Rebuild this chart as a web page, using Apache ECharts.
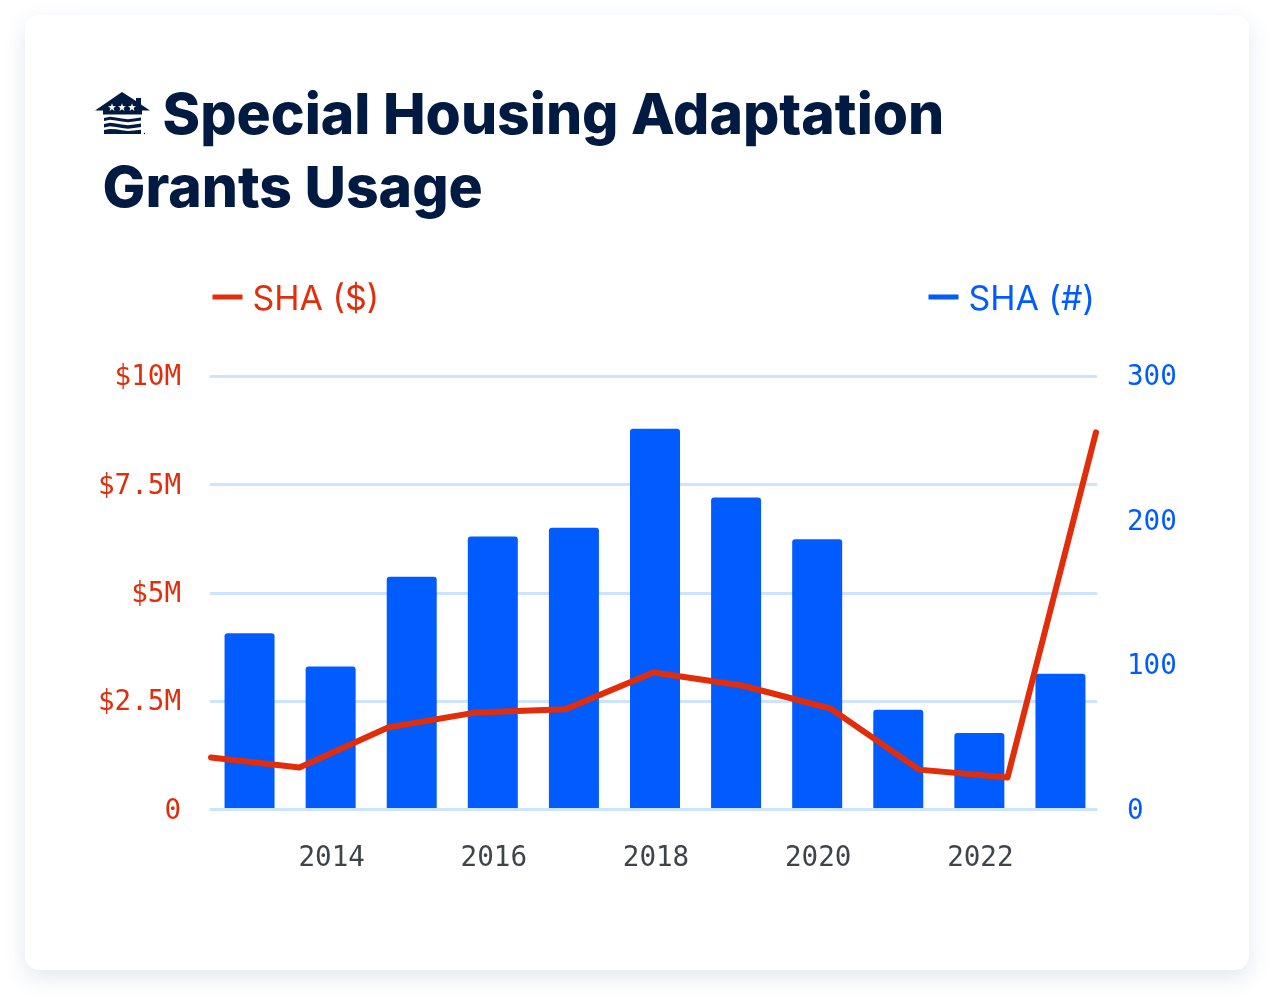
<!DOCTYPE html>
<html>

<head>
    <meta charset="utf-8">
    <script src="https://cdn.jsdelivr.net/npm/echarts@6/dist/echarts.min.js"></script>
    <style>
        html, body {
            margin: 0;
            padding: 0;
            background: #fff;
        }

        #card {
            position: absolute;
            left: 25px;
            top: 15px;
            width: 1224px;
            height: 955px;
            background: #fff;
            border-radius: 14px;
            box-shadow: 0 8px 22px rgba(40, 70, 130, 0.13);
        }

        #graph {
            position: absolute;
            left: 0;
            top: 0;
            width: 1276px;
            height: 1008px;
        }
    </style>
</head>

<body>
    <div id="card"></div>
    <div id="graph"></div>
    <script>
        const years = ['2013', '2014', '2015', '2016', '2017', '2018', '2019', '2020', '2021', '2022', '2023'];
        const shaCount = [122, 99, 161, 189, 195, 263.5, 216, 187, 69, 53, 94];
        const shaDollars = [1.2, 0.97, 1.89, 2.24, 2.31, 3.16, 2.86, 2.33, 0.92, 0.74, 8.7];
        const dollarTicks = { 0: '0', 2.5: '$2.5M', 5: '$5M', 7.5: '$7.5M', 10: '$10M' };

        const RED = '#e12d0a';
        const BLUE = '#005cff';
        const NAVY = '#001a41';
        const GRID = '#cde4ff';
        const MONO = '"DejaVu Sans Mono", monospace';
        const TITLE_FONT = { fontFamily: 'Inter', fontWeight: 800, fontSize: 57, color: NAVY };

        const myChart = echarts.init(document.getElementById('graph'));

        function star(cx, cy) {
            const pts = [];
            for (let i = 0; i < 10; i++) {
                const r = i % 2 ? 1.7 : 4.2;
                const a = -Math.PI / 2 + i * Math.PI / 5;
                pts.push([cx + r * Math.cos(a), cy + r * Math.sin(a)]);
            }
            return { type: 'polygon', shape: { points: pts }, style: { fill: '#fff' } };
        }

        // one band of the logo's water, wavy on top and bottom
        function wave(top, bottom) {
            const pts = [];
            const xs = [104, 110, 116, 122, 128, 134, 141];
            const dy = [0, -1.2, -0.6, 0.6, 1.2, 0.6, -0.6];
            xs.forEach((x, i) => pts.push([x, top + dy[i]]));
            xs.slice().reverse().forEach((x, i) => pts.push([x, bottom + dy[xs.length - 1 - i]]));
            return { type: 'polygon', shape: { points: pts }, style: { fill: NAVY } };
        }

        // legend text sits a bit lower than its swatch, so it goes through a rich style
        function legendText(color) {
            return {
                rich: {
                    t: { fontFamily: 'Inter', fontSize: 34, color: color, padding: [5, 0, 0, 5] }
                }
            };
        }

        // logo next to the title
        const logo = [
            { type: 'polygon', shape: { points: [[95, 110.5], [122, 92], [136, 101], [136, 98], [141, 98], [141, 104.5], [150, 110.5], [142, 110.5], [142, 114.5], [103, 114.5], [103, 110.5]] }, style: { fill: NAVY } },
            star(112, 107.5), star(122, 107.5), star(132, 107.5),
            wave(118, 121),
            wave(124, 127.5),
            { type: 'polygon', shape: { points: [[104, 130], [110, 129], [116, 129.3], [122, 130.3], [128, 131], [134, 130.5], [141, 129.7], [141, 134], [104, 134]] }, style: { fill: NAVY } },
            { type: 'circle', shape: { cx: 144.5, cy: 133.5, r: 0.7 }, style: { fill: NAVY } }
        ];

        const option = {
            animation: false,
            title: [
                { text: 'Special Housing Adaptation', left: 162.5, top: 88, padding: 0, textStyle: TITLE_FONT },
                { text: 'Grants Usage', left: 102.5, top: 161, padding: 0, textStyle: TITLE_FONT }
            ],
            legend: [
                {
                    data: ['SHA ($)'], left: 212.5, top: 282.5, padding: 0, icon: 'rect', itemWidth: 30, itemHeight: 5,
                    formatter: '{t|{name}}', textStyle: legendText(RED)
                },
                {
                    data: ['SHA (#)'], left: 928.5, top: 282.5, padding: 0, icon: 'rect', itemWidth: 30, itemHeight: 5,
                    formatter: '{t|{name}}', textStyle: legendText(BLUE)
                }
            ],
            grid: [
                { left: 209, right: 175, top: 376, bottom: 198.5 },
                { left: 211, right: 180, top: 376, bottom: 198.5 }
            ],
            xAxis: [
                {
                    type: 'category', gridIndex: 0, data: years,
                    axisLine: { show: false },
                    axisTick: { show: false },
                    axisLabel: {
                        interval: (i) => i % 2 === 1,
                        margin: 35,
                        padding: [0, 0, 0, 2],
                        fontFamily: MONO, fontSize: 27.6, color: '#3f434a'
                    }
                },
                {
                    type: 'category', gridIndex: 1, data: years, boundaryGap: false, z: 3,
                    axisLine: { show: true, lineStyle: { color: GRID, width: 3, cap: 'round' } },
                    axisTick: { show: false },
                    axisLabel: { show: false }
                }
            ],
            yAxis: [
                {
                    type: 'value', gridIndex: 1, position: 'left', min: 0, max: 10, interval: 2.5,
                    axisLine: { show: false },
                    axisTick: { show: false },
                    splitLine: { lineStyle: { color: GRID, width: 3, cap: 'round' } },
                    axisLabel: {
                        margin: 30,
                        verticalAlign: 'top',
                        lineHeight: 4,
                        fontFamily: MONO, fontSize: 27.6, color: RED,
                        formatter: (v) => dollarTicks[v]
                    }
                },
                {
                    type: 'value', gridIndex: 0, position: 'right', min: 0, max: 300, interval: 100,
                    axisLine: { show: false },
                    axisTick: { show: false },
                    splitLine: { show: false },
                    axisLabel: {
                        margin: 26,
                        verticalAlign: 'top',
                        lineHeight: 4,
                        fontFamily: MONO, fontSize: 27.6, color: BLUE
                    }
                }
            ],
            series: [
                {
                    name: 'SHA (#)', type: 'bar', xAxisIndex: 0, yAxisIndex: 1, z: 2,
                    barWidth: 50, data: shaCount,
                    itemStyle: { color: BLUE, borderRadius: [3, 3, 0, 0] }
                },
                {
                    name: 'SHA ($)', type: 'line', xAxisIndex: 1, yAxisIndex: 0, z: 4,
                    data: shaDollars, showSymbol: false, symbol: 'none',
                    lineStyle: { color: RED, width: 6, cap: 'round', join: 'round' },
                    itemStyle: { color: RED }
                }
            ],
            graphic: logo
        };

        option && myChart.setOption(option);
    </script>
</body>

</html>
